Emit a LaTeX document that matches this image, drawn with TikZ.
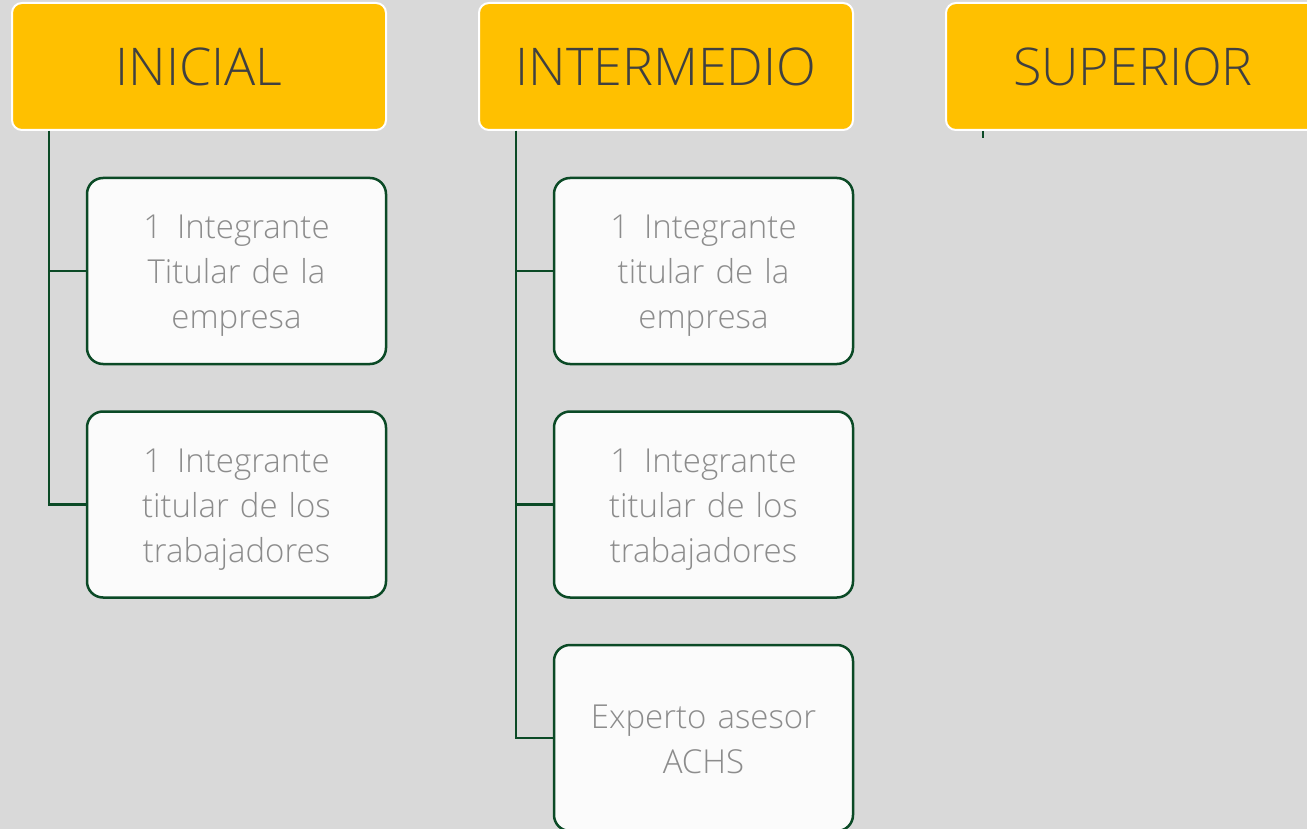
\documentclass[tikz,border=0pt]{standalone}
\usepackage{fontspec}
\setmainfont{Open Sans}
\newfontfamily\lightfont{Open Sans Light}
\usepackage{xcolor}
\usepackage{tikz}

\definecolor{bggray}{HTML}{D9D9D9}
\definecolor{headyellow}{HTML}{FFC000}
\definecolor{headtext}{HTML}{404040}
\definecolor{linegreen}{HTML}{0B4A26}
\definecolor{piecefill}{HTML}{FBFBFB}
\definecolor{piecetext}{HTML}{8C8C8C}

\tikzset{
  head/.style={draw=white, line width=2pt, fill=headyellow, rounded corners=10pt,
    minimum width=374pt, minimum height=127pt, inner sep=0pt, text=headtext,
    font=\lightfont\fontsize{52}{62}\selectfont},
  piece/.style={draw=linegreen, line width=2.5pt, fill=piecefill, rounded corners=16pt,
    minimum width=299pt, minimum height=186pt, inner sep=0pt, text width=280pt,
    align=center, text=piecetext, font=\lightfont\fontsize{33}{45}\selectfont,
    execute at end node={\par\vspace*{-10pt}}},
  shortpiece/.style={piece, execute at end node={\par\vspace*{8pt}}},
  link/.style={draw=linegreen, line width=2.6pt}
}

\begin{document}
\begin{tikzpicture}[x=1pt, y=-1pt]
\def\trunkshift{38pt}
\fill[bggray] (0,0) rectangle (1307,829);
\useasboundingbox (0,0) rectangle (1307,829);
\clip (0,0) rectangle (1307,829);

\begin{scope}[shift={(0,0)}] % INICIAL
\node[head] (inicial) at (199,66.5) {INICIAL};
\node[piece] (ini1) at (236.5,271) {1\hspace{0.45em}Integrante\\Titular de la\\empresa};
\node[piece] (ini2) at (236.5,504.5) {1\hspace{0.45em}Integrante\\titular de los\\trabajadores};

\draw[link] ([xshift=\trunkshift]inicial.south west) |- (ini1.west);
\draw[link] ([xshift=\trunkshift]inicial.south west) |- (ini2.west);
\end{scope}

\begin{scope}[shift={(467,0)}] % INTERMEDIO
\node[head] (intermedio) at (199,66.5) {INTERMEDIO};
\node[piece] (int1) at (236.5,271) {1\hspace{0.45em}Integrante\\titular de la\\empresa};
\node[piece] (int2) at (236.5,504.5) {1\hspace{0.45em}Integrante\\titular de los\\trabajadores};
\node[shortpiece] (int3) at (236.5,738) {Experto asesor\\ACHS};

\draw[link] ([xshift=\trunkshift]intermedio.south west) |- (int1.west);
\draw[link] ([xshift=\trunkshift]intermedio.south west) |- (int2.west);
\draw[link] ([xshift=\trunkshift]intermedio.south west) |- (int3.west);
\end{scope}

\begin{scope}[shift={(934,0)}] % SUPERIOR
\node[head] (superior) at (199,66.5) {SUPERIOR};
\coordinate (suptick) at ([xshift=\trunkshift, yshift=-7pt]superior.south west);

\draw[link] ([xshift=\trunkshift]superior.south west) -- (suptick);
\end{scope}
\end{tikzpicture}
\end{document}
